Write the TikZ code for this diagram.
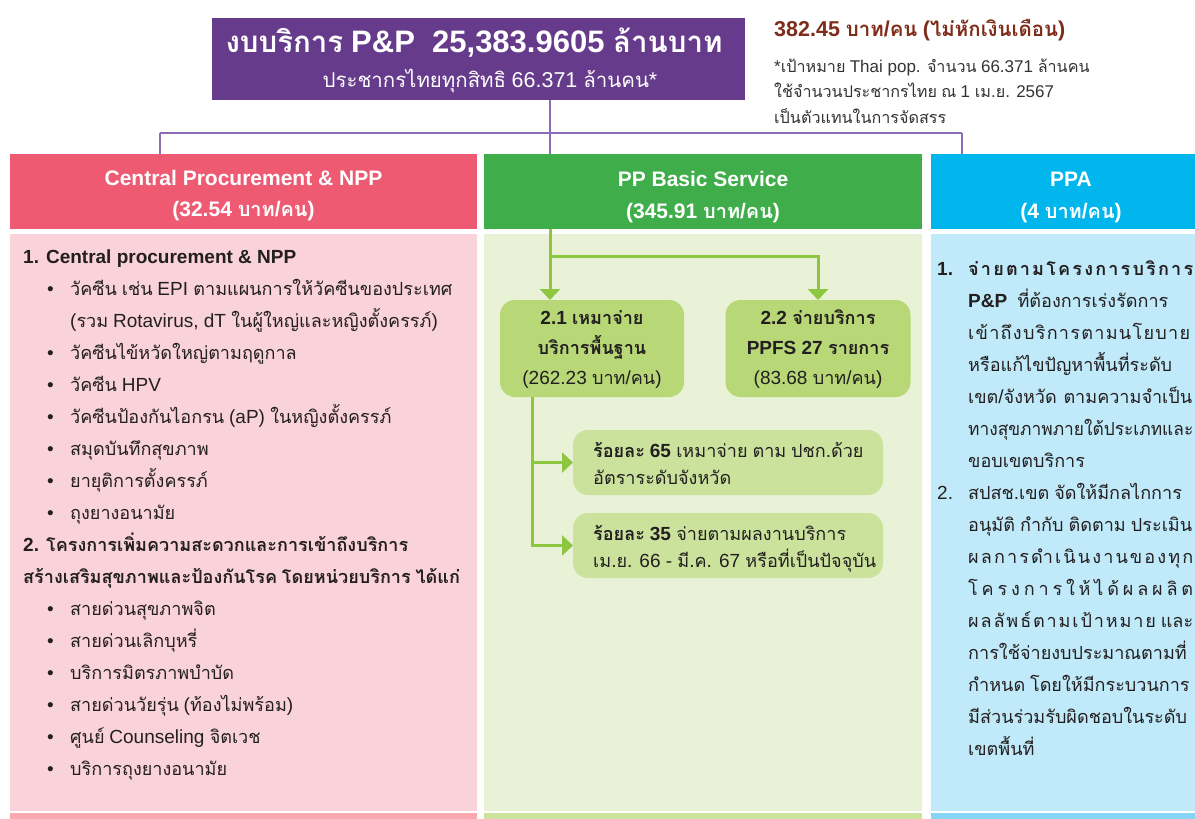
\documentclass[tikz,border=0pt]{standalone}
\usepackage{fontspec}
\usepackage{graphicx}
\usetikzlibrary{arrows.meta}
\setmainfont{Liberation Sans}
\newfontfamily\latfont{Liberation Sans}
\newfontfamily\thaifont[Script=Thai,Scale=0.95,WordSpace=0.8]{Loma}
\XeTeXinterchartokenstate=1
\newXeTeXintercharclass\ThaiCls
\count255="0E00
\loop
  \XeTeXcharclass\count255=\ThaiCls
  \ifnum\count255<"0E7F \advance\count255 by 1
\repeat
\XeTeXinterchartoks 0 \ThaiCls = {\thaifont}
\XeTeXinterchartoks 4095 \ThaiCls = {\thaifont}
\XeTeXinterchartoks \ThaiCls 0 = {\latfont}
\XeTeXinterchartoks 4095 0 = {\latfont}

\definecolor{purpleT}{HTML}{663B8B}
\definecolor{connP}{HTML}{8A6DB5}
\definecolor{pinkH}{HTML}{EF5A73}
\definecolor{pinkB}{HTML}{FAD3DA}
\definecolor{pinkS}{HTML}{F8AAB0}
\definecolor{greenH}{HTML}{3FAE4A}
\definecolor{greenB}{HTML}{E9F2D7}
\definecolor{greenS}{HTML}{CBE29A}
\definecolor{boxA}{HTML}{B8D776}
\definecolor{boxB}{HTML}{CBE29C}
\definecolor{arrowG}{HTML}{8DC63F}
\definecolor{blueH}{HTML}{00B6ED}
\definecolor{blueB}{HTML}{C0EAFA}
\definecolor{blueS}{HTML}{87D5F5}
\definecolor{brownT}{HTML}{7F2D1A}
\definecolor{txt}{HTML}{231F20}
\definecolor{noteT}{HTML}{333333}

\tikzset{
  panel/.style={draw=none, inner sep=0pt, outer sep=0pt, anchor=center},
  rbox/.style={panel, rounded corners=15pt},
  tx/.style={anchor=mid west, yshift=-5pt, inner sep=0pt, text=txt, font=\fontsize{19}{23}\selectfont},
  txb/.style={tx, font=\fontsize{19}{23}\selectfont\bfseries},
  txc/.style={tx, anchor=mid},
  txcb/.style={txb, anchor=mid},
  hdrtext/.style={anchor=mid, yshift=-5.5pt, inner sep=0pt, text=white, font=\fontsize{21}{23}\selectfont\bfseries},
  note/.style={anchor=mid west, yshift=-4.4pt, inner sep=0pt, text=noteT, font=\fontsize{17}{20}\selectfont},
  purp/.style={draw=connP, line width=2.5pt},
  garrow/.style={draw=arrowG, line width=3pt, -{Triangle[width=20pt,length=11pt]}},
}
\newcommand\bul{\makebox[23pt][l]{\textbullet}}
\newcommand\jline[1]{\makebox[224pt][s]{#1}}

\begin{document}
\begin{tikzpicture}[x=1pt,y=-1pt]
\useasboundingbox[fill=white] (0,0) rectangle (1195,819);

% ---------- title ----------
\node[panel, fill=purpleT, minimum width=533, minimum height=82] (title) at (478.5,59) {};
\node[anchor=mid, yshift=-8pt, inner sep=0pt, text=white, font=\fontsize{31}{34}\selectfont\bfseries] (t1) at (474,42) {งบบริการ P\&P\ \ 25,383.9605 ล้านบาท};
\node[anchor=mid, yshift=-5.5pt, inner sep=0pt, text=white, font=\fontsize{21.5}{24}\selectfont] (t2) at (490,79) {ประชากรไทยทุกสิทธิ 66.371 ล้านคน*};

\node[anchor=mid west, yshift=-5.6pt, inner sep=0pt, text=brownT, font=\fontsize{21.5}{24}\selectfont\bfseries] (rate) at (774,28) {382.45 บาท/คน (ไม่หักเงินเดือน)};
\node[note] (n1) at (774,65) {*เป้าหมาย Thai pop. จำนวน 66.371 ล้านคน};
\node[note] (n2) at (774,90) {ใช้จำนวนประชากรไทย ณ 1 เม.ย. 2567};
\node[note] (n3) at (774,116) {เป็นตัวแทนในการจัดสรร};

% ---------- column panels ----------
\node[panel, fill=pinkH, minimum width=467, minimum height=75] (hp) at (243.5,191.5) {};
\node[panel, fill=greenH, minimum width=438, minimum height=75] (hg) at (703,191.5) {};
\node[panel, fill=blueH, minimum width=284, minimum height=75] (hb) at (1073,191.5) {};
\node[panel, fill=pinkB, minimum width=467, minimum height=577] (bp) at (243.5,522.5) {};
\node[panel, fill=greenB, minimum width=438, minimum height=577] (bg) at (703,522.5) {};
\node[panel, fill=blueB, minimum width=284, minimum height=577] (bb) at (1073,522.5) {};
\node[panel, fill=pinkS, minimum width=467, minimum height=8] (sp) at (243.5,817) {};
\node[panel, fill=greenS, minimum width=438, minimum height=8] (sg) at (703,817) {};
\node[panel, fill=blueS, minimum width=284, minimum height=8] (sb) at (1073,817) {};

\node[hdrtext] (hp1) at (243.5,177) {Central Procurement \& NPP};
\node[hdrtext] (hp2) at (243.5,208) {(32.54 บาท/คน)};
\node[hdrtext] (hg1) at (703,178) {PP Basic Service};
\node[hdrtext] (hg2) at (703,210) {(345.91 บาท/คน)};
\node[hdrtext] (hb1) at (1071,178) {PPA};
\node[hdrtext] (hb2) at (1071,210) {(4 บาท/คน)};

% ---------- purple connectors ----------
\coordinate (jl) at (160,133);
\coordinate (jr) at (962,133);
\coordinate (jm) at (550,133);
\draw[purp] (jl) -- (jr);
\draw[purp] (jl) -- (jl |- hp.north);
\draw[purp] (jr) -- (jr |- hb.north);
\draw[purp] (jm |- title.south) -- (jm |- hg.north);

% ---------- left column ----------
\node[txb] (l1) at (23,256) {1. Central procurement \& NPP};
\node[tx] (l2) at (47,288) {\bul วัคซีน เช่น EPI ตามแผนการให้วัคซีนของประเทศ};
\node[tx] (l3) at (70,320) {(รวม Rotavirus, dT ในผู้ใหญ่และหญิงตั้งครรภ์)};
\node[tx] (l4) at (47,352) {\bul วัคซีนไข้หวัดใหญ่ตามฤดูกาล};
\node[tx] (l5) at (47,384) {\bul วัคซีน HPV};
\node[tx] (l6) at (47,416) {\bul วัคซีนป้องกันไอกรน (aP) ในหญิงตั้งครรภ์};
\node[tx] (l7) at (47,448) {\bul สมุดบันทึกสุขภาพ};
\node[tx] (l8) at (47,480) {\bul ยายุติการตั้งครรภ์};
\node[tx] (l9) at (47,512) {\bul ถุงยางอนามัย};
\node[txb] (l10) at (23,544) {2. โครงการเพิ่มความสะดวกและการเข้าถึงบริการ};
\node[txb] (l11) at (23,576) {สร้างเสริมสุขภาพและป้องกันโรค โดยหน่วยบริการ ได้แก่};
\node[tx] (l12) at (47,608) {\bul สายด่วนสุขภาพจิต};
\node[tx] (l13) at (47,640) {\bul สายด่วนเลิกบุหรี่};
\node[tx] (l14) at (47,672) {\bul บริการมิตรภาพบำบัด};
\node[tx] (l15) at (47,704) {\bul สายด่วนวัยรุ่น (ท้องไม่พร้อม)};
\node[tx] (l16) at (47,736) {\bul ศูนย์ Counseling จิตเวช};
\node[tx] (l17) at (47,768) {\bul บริการถุงยางอนามัย};

% ---------- middle column ----------
\node[rbox, fill=boxA, minimum width=184, minimum height=97] (b21) at (592,348.5) {};
\node[rbox, fill=boxA, minimum width=185, minimum height=97] (b22) at (818,348.5) {};
\node[txcb] (b21a) at (592,317) {2.1 เหมาจ่าย};
\node[txcb] (b21b) at (592,347) {บริการพื้นฐาน};
\node[txc] (b21c) at (592,377) {(262.23 บาท/คน)};
\node[txcb] (b22a) at (818,317) {2.2 จ่ายบริการ};
\node[txcb] (b22b) at (818,347) {PPFS 27 รายการ};
\node[txc] (b22c) at (818,377) {(83.68 บาท/คน)};

\node[rbox, fill=boxB, minimum width=310, minimum height=65] (r65) at (728,462.5) {};
\node[rbox, fill=boxB, minimum width=310, minimum height=65] (r35) at (728,545.5) {};
\node[tx] (r65a) at (593,450) {\textbf{ร้อยละ 65} เหมาจ่าย ตาม ปชก.ด้วย};
\node[tx] (r65b) at (593,477) {อัตราระดับจังหวัด};
\node[tx] (r35a) at (593,533) {\textbf{ร้อยละ 35} จ่ายตามผลงานบริการ};
\node[tx] (r35b) at (593,560) {เม.ย. 66 - มี.ค. 67 หรือที่เป็นปัจจุบัน};

\coordinate (ga) at (550,229);
\coordinate (gb) at (550,256);
\coordinate (gc) at (532,397);
\draw[garrow] (ga) -- (ga |- b21.north);
\draw[garrow] (gb) -| (b22.north);
\draw[garrow] (gc) |- (r65.west);
\draw[garrow] (gc) |- (r35.west);

% ---------- right column ----------
\node[txb] (p0) at (937,268) {1.};
\node[txb] (p1) at (968,268) {\makebox[225pt][s]{จ่\hfil า\hfil ย\hfil ต\hfil า\hfil ม\hfil โ\hfil ค\hfil ร\hfil ง\hfil ก\hfil า\hfil ร\hfil บ\hfil ริ\hfil ก\hfil า\hfil ร}};
\node[tx] (p2) at (968,300) {\textbf{P\&P}\hspace{5pt} ที่ต้องการเร่งรัดการ};
\node[tx] (p3) at (968,332) {\makebox[222pt][s]{เ\hfil ข้\hfil า\hfil ถึ\hfil ง\hfil บ\hfil ริ\hfil ก\hfil า\hfil ร\hfil ต\hfil า\hfil ม\hfil น\hfil โ\hfil ย\hfil บ\hfil า\hfil ย}};
\node[tx] (p4) at (968,364) {หรือแก้ไขปัญหาพื้นที่ระดับ};
\node[tx] (p5) at (968,396) {\jline{เขต/จังหวัด ตามความจำเป็น}};
\node[tx] (p6) at (968,428) {\scalebox{0.96}[1]{ทางสุขภาพภายใต้ประเภทและ}};
\node[tx] (p7) at (968,460) {ขอบเขตบริการ};
\node[tx] (q0) at (937,492) {2.};
\node[tx] (q1) at (968,492) {สปสช.เขต จัดให้มีกลไกการ};
\node[tx] (q2) at (968,524) {\jline{อนุมัติ กำกับ ติดตาม ประเมิน}};
\node[tx] (q3) at (968,556) {\makebox[225pt][s]{ผ\hfil ล\hfil ก\hfil า\hfil ร\hfil ดำ\hfil เ\hfil นิ\hfil น\hfil ง\hfil า\hfil น\hfil ข\hfil อ\hfil ง\hfil ทุ\hfil ก}};
\node[tx] (q4) at (968,588) {\makebox[225pt][s]{โ\hfil ค\hfil ร\hfil ง\hfil ก\hfil า\hfil ร\hfil ใ\hfil ห้\hfil ไ\hfil ด้\hfil ผ\hfil ล\hfil ผ\hfil ลิ\hfil ต}};
\node[tx] (q5) at (968,620) {\makebox[225pt][s]{ผ\hfil ล\hfil ลั\hfil พ\hfil ธ์\hfil ต\hfil า\hfil ม\hfil เ\hfil ป้\hfil า\hfil ห\hfil ม\hfil า\hfil ย และ}};
\node[tx] (q6) at (968,652) {การใช้จ่ายงบประมาณตามที่};
\node[tx] (q7) at (968,684) {กำหนด โดยให้มีกระบวนการ};
\node[tx] (q8) at (968,716) {มีส่วนร่วมรับผิดชอบในระดับ};
\node[tx] (q9) at (968,748) {เขตพื้นที่};
\end{tikzpicture}
\end{document}
